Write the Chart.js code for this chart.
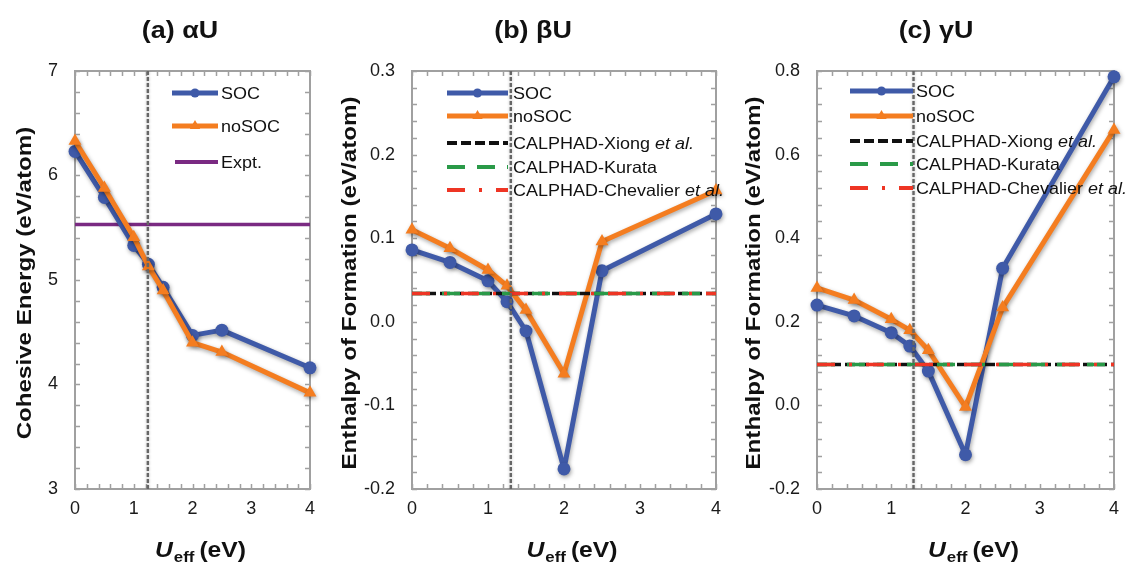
<!DOCTYPE html>
<html><head><meta charset="utf-8">
<script src="https://cdn.jsdelivr.net/npm/chart.js@4.4.1/dist/chart.umd.min.js"></script>
<style>
html,body{margin:0;padding:0;background:#fff;}
body{width:1128px;height:564px;overflow:hidden;position:relative;}
canvas{position:absolute;top:0;}
</style>
</head><body>
<canvas id="ca"></canvas>
<canvas id="cb"></canvas>
<canvas id="cc"></canvas>
<script>
const FONT = '"Liberation Sans", Arial, Helvetica, sans-serif';

// ---------- data ----------
const uEff = [0, 0.5, 1, 1.25, 1.5, 2, 2.5, 4];
const xTickValues = [0, 1, 2, 3, 4];

// (a) alpha-U cohesive energy (eV/atom)
const alphaSOC   = [6.23, 5.79, 5.33, 5.15, 4.93, 4.47, 4.52, 4.16];
const alphaNoSOC = [6.33, 5.88, 5.41, 5.13, 4.90, 4.40, 4.31, 3.92];
const alphaExpt  = 5.53;
const alphaYTicks = [3, 4, 5, 6, 7];

// (b) beta-U enthalpy of formation (eV/atom)
const betaSOC   = [0.086, 0.071, 0.049, 0.024, -0.011, -0.176, 0.061, 0.129];
const betaNoSOC = [0.110, 0.088, 0.062, 0.043, 0.014, -0.062, 0.096, 0.157];
const betaCalphadXiong = 0.034;
const betaCalphadKurata = 0.034;
const betaCalphadChevalier = 0.034;
const betaYTicks = [-0.2, -0.1, 0, 0.1, 0.2, 0.3];

// (c) gamma-U enthalpy of formation (eV/atom)
const gammaSOC   = [0.240, 0.214, 0.174, 0.142, 0.082, -0.118, 0.328, 0.786];
const gammaNoSOC = [0.281, 0.252, 0.206, 0.180, 0.132, -0.004, 0.234, 0.659];
const gammaCalphadXiong = 0.098;
const gammaCalphadKurata = 0.098;
const gammaCalphadChevalier = 0.098;
const gammaYTicks = [-0.2, 0, 0.2, 0.4, 0.6, 0.8];

// reference U_eff (vertical dashed line) per panel
const uRefLine = [1.24, 1.30, 1.30];

const panelTitles = ['(a) αU', '(b) βU', '(c) γU'];
const yTitles = ['Cohesive Energy (eV/atom)', 'Enthalpy of Formation (eV/atom)', 'Enthalpy of Formation (eV/atom)'];

// ---------- styles ----------
const BLUE = '#3F5AA8', ORANGE = '#F47D20', PURPLE = '#7A2A82';
const BLACK = '#111111', GREEN = '#2A9A48', RED = '#EE3524';
const AXIS = '#A0A0A0', VGRAY = '#666666';
const DASH_X = [10, 4], DASH_K = [18, 12], DASH_C = [18, 14, 3, 14];
const STRETCH = 1.12, LEG_STRETCH = 1.09;

function pts(xs, ys) { return xs.map((x, i) => ({x: x, y: ys[i]})); }
function hline(v) { return [{x: xTickValues[0], y: v}, {x: xTickValues[xTickValues.length - 1], y: v}]; }
function vline(u, yt) { return [{x: u, y: yt[0]}, {x: u, y: yt[yt.length - 1]}]; }

function socDs(d) {
  return {label: 'SOC', data: pts(uEff, d), borderColor: BLUE, backgroundColor: BLUE, borderWidth: 5,
    pointStyle: 'circle', pointRadius: 6.5, pointBorderWidth: 0, pointBackgroundColor: BLUE,
    borderJoinStyle: 'round', shadow: true, clip: false, order: 6};
}
function noSocDs(d) {
  return {label: 'noSOC', data: pts(uEff, d), borderColor: ORANGE, backgroundColor: ORANGE, borderWidth: 5,
    pointStyle: 'triangle', pointRadius: 7.5, pointBorderWidth: 0, pointBackgroundColor: ORANGE,
    borderJoinStyle: 'round', shadow: true, clip: false, order: 5};
}
function flatDs(label, v, color, dash, order) {
  return {label: label, data: hline(v), borderColor: color, borderWidth: 3.5, borderDash: dash,
    pointRadius: 0, order: order};
}
function refDs(u, yt) {
  return {label: 'ref', data: vline(u, yt), borderColor: VGRAY, borderWidth: 2.4, borderDash: [4, 2],
    pointRadius: 0, glow: true, order: 0};
}

function fmt1(v) { return Math.abs(v) < 1e-9 ? '0.0' : v.toFixed(1); }
function fmt0(v) { return String(Math.round(v)); }

// draw text stretched horizontally (reference fonts are wider than Arial)
function sText(ctx, t, x, y, sx) {
  ctx.save(); ctx.translate(x, y); ctx.scale(sx, 1); ctx.fillText(t, 0, 0); ctx.restore();
  return ctx.measureText(t).width * sx;
}

function drawLegend(ctx, items, sx0, sx1, tx) {
  items.forEach(it => {
    ctx.save();
    ctx.strokeStyle = it.color; ctx.lineWidth = it.width;
    ctx.setLineDash(it.dash || []);
    ctx.beginPath(); ctx.moveTo(it.x0 !== undefined ? it.x0 : sx0, it.y); ctx.lineTo(sx1, it.y); ctx.stroke();
    ctx.setLineDash([]);
    const mx = (sx0 + sx1) / 2;
    ctx.fillStyle = it.color;
    if (it.marker === 'circle') {
      ctx.beginPath(); ctx.arc(mx, it.y, 4.5, 0, Math.PI * 2); ctx.fill();
    } else if (it.marker === 'triangle') {
      const r = 6;
      ctx.beginPath();
      ctx.moveTo(mx, it.y - r);
      ctx.lineTo(mx + r * 0.866, it.y + r * 0.5);
      ctx.lineTo(mx - r * 0.866, it.y + r * 0.5);
      ctx.closePath(); ctx.fill();
    }
    ctx.fillStyle = '#111';
    ctx.textBaseline = 'middle'; ctx.textAlign = 'left';
    let x = tx;
    it.parts.forEach(p => {
      ctx.font = (p.i ? 'italic ' : '') + '16.5px ' + FONT;
      x += sText(ctx, p.t, x, it.y + 1, LEG_STRETCH);
    });
    ctx.restore();
  });
}

function panel(o) {
  const canvas = document.getElementById(o.id);
  canvas.width = o.width; canvas.height = 564;
  canvas.style.left = o.left + 'px';
  canvas.style.width = o.width + 'px'; canvas.style.height = '564px';
  const pl = o.plot.l - o.left, pr = o.plot.r - o.left;
  const yt = o.yTicks;

  const decor = {
    id: 'decor_' + o.id,
    beforeDatasetsDraw(chart) {
      const ctx = chart.ctx, a = chart.chartArea, sx = chart.scales.x, sy = chart.scales.y;
      ctx.save();
      ctx.strokeStyle = AXIS; ctx.lineWidth = 1.5;
      ctx.beginPath();
      const L = 5;
      for (let v = sx.min; v <= sx.max + 1e-9; v += o.xMinor) {
        const px = Math.round(sx.getPixelForValue(v)) + 0.5;
        ctx.moveTo(px, a.bottom); ctx.lineTo(px, a.bottom - L);
        ctx.moveTo(px, a.top); ctx.lineTo(px, a.top + L);
      }
      for (let v = sy.min; v <= sy.max + 1e-9; v += o.yMinor) {
        const py = Math.round(sy.getPixelForValue(v)) + 0.5;
        ctx.moveTo(a.left, py); ctx.lineTo(a.left + L, py);
        ctx.moveTo(a.right, py); ctx.lineTo(a.right - L, py);
      }
      ctx.stroke();
      ctx.lineWidth = 2;
      ctx.strokeRect(a.left, a.top, a.right - a.left, a.bottom - a.top);
      ctx.restore();
    },
    beforeDatasetDraw(chart, args) {
      const ds = chart.data.datasets[args.index];
      chart.ctx.save();
      if (ds.shadow) {
        chart.ctx.shadowColor = 'rgba(0,0,0,0.35)';
        chart.ctx.shadowBlur = 4; chart.ctx.shadowOffsetX = 1; chart.ctx.shadowOffsetY = 2;
      } else if (ds.glow) {
        chart.ctx.shadowColor = 'rgba(0,0,0,0.3)';
        chart.ctx.shadowBlur = 3; chart.ctx.shadowOffsetX = 0; chart.ctx.shadowOffsetY = 0;
      }
    },
    afterDatasetDraw(chart) { chart.ctx.restore(); },
    afterDraw(chart) {
      const ctx = chart.ctx, a = chart.chartArea;
      ctx.save();
      ctx.fillStyle = '#111';
      // panel title
      ctx.font = 'bold 24px ' + FONT; ctx.textAlign = 'left'; ctx.textBaseline = 'alphabetic';
      const wt = ctx.measureText(o.title).width * STRETCH;
      sText(ctx, o.title, o.titleX - o.left - wt / 2, 38, STRETCH);
      // y title
      ctx.save();
      ctx.translate(o.yTitleX - o.left, (a.top + a.bottom) / 2 + 3);
      ctx.rotate(-Math.PI / 2);
      ctx.font = 'bold 21px ' + FONT; ctx.textAlign = 'left';
      const wy = ctx.measureText(o.yTitle).width * 1.15;
      sText(ctx, o.yTitle, -wy / 2, 0, 1.15);
      ctx.restore();
      // x title: U_eff (eV)
      const fU = 'italic bold 22px ' + FONT, fS = 'bold 15px ' + FONT, fR = 'bold 22px ' + FONT;
      ctx.textAlign = 'left';
      ctx.font = fU; const wU = ctx.measureText('U').width * STRETCH;
      ctx.font = fS; const wS = ctx.measureText('eff').width * STRETCH;
      ctx.font = fR; const wR = ctx.measureText('(eV)').width * STRETCH;
      const total = wU + 1 + wS + 5 + wR;
      let x = (a.left + a.right) / 2 + 8 - total / 2;
      const yb = 557;
      ctx.font = fU; sText(ctx, 'U', x, yb, STRETCH); x += wU + 1;
      ctx.font = fS; sText(ctx, 'eff', x, yb + 5, STRETCH); x += wS + 5;
      ctx.font = fR; sText(ctx, '(eV)', x, yb, STRETCH);
      ctx.restore();
      drawLegend(ctx, o.legend, o.leg[0] - o.left, o.leg[1] - o.left, o.leg[2] - o.left);
    }
  };

  new Chart(canvas, {
    type: 'line',
    data: {datasets: o.datasets},
    options: {
      responsive: false, animation: false, devicePixelRatio: 1,
      layout: {padding: {left: 0, right: o.width - pr, top: o.plot.t, bottom: 0}},
      plugins: {legend: {display: false}, tooltip: {enabled: false}, title: {display: false}},
      elements: {line: {tension: 0}},
      scales: {
        x: {type: 'linear', min: xTickValues[0], max: xTickValues[xTickValues.length - 1],
          grid: {display: false, drawTicks: false}, border: {display: false},
          afterBuildTicks: s => { s.ticks = xTickValues.map(v => ({value: v})); },
          afterFit: s => { s.height = 564 - o.plot.b; },
          ticks: {padding: 9, color: '#1a1a1a', font: {family: FONT, size: 18}, maxRotation: 0, autoSkip: false,
            callback: v => fmt0(v)}},
        y: {type: 'linear', min: yt[0], max: yt[yt.length - 1],
          grid: {display: false, drawTicks: false}, border: {display: false},
          afterBuildTicks: s => { s.ticks = yt.map(v => ({value: v})); },
          afterFit: s => { s.width = pl; },
          ticks: {padding: 17, color: '#1a1a1a', font: {family: FONT, size: 18}, autoSkip: false,
            callback: o.yFmt}}
      }
    },
    plugins: [decor]
  });
}

const calLegend = (y0) => [
  {y: y0[0], color: BLUE, width: 5, marker: 'circle', parts: [{t: 'SOC'}]},
  {y: y0[1], color: ORANGE, width: 5, marker: 'triangle', parts: [{t: 'noSOC'}]},
  {y: y0[2], color: BLACK, width: 4, dash: DASH_X, parts: [{t: 'CALPHAD-Xiong '}, {t: 'et al.', i: true}]},
  {y: y0[3], color: GREEN, width: 4, dash: DASH_K, parts: [{t: 'CALPHAD-Kurata'}]},
  {y: y0[4], color: RED, width: 4, dash: DASH_C, parts: [{t: 'CALPHAD-Chevalier '}, {t: 'et al.', i: true}]}
];

panel({
  id: 'ca', left: 0, width: 340, plot: {l: 75, r: 310, t: 71, b: 489},
  yTicks: alphaYTicks, xMinor: 0.2, yMinor: 0.2, yFmt: fmt0,
  title: panelTitles[0], titleX: 180, yTitle: yTitles[0], yTitleX: 31,
  datasets: [
    refDs(uRefLine[0], alphaYTicks),
    noSocDs(alphaNoSOC),
    socDs(alphaSOC),
    {label: 'Expt.', data: hline(alphaExpt), borderColor: PURPLE, borderWidth: 3.5, pointRadius: 0, order: 7}
  ],
  leg: [172, 218, 221],
  legend: [
    {y: 93, color: BLUE, width: 5, marker: 'circle', parts: [{t: 'SOC'}]},
    {y: 126, color: ORANGE, width: 5, marker: 'triangle', parts: [{t: 'noSOC'}]},
    {y: 162, color: PURPLE, width: 4, x0: 175, parts: [{t: 'Expt.'}]}
  ]
});

panel({
  id: 'cb', left: 340, width: 390, plot: {l: 412, r: 718, t: 71, b: 489},
  yTicks: betaYTicks, xMinor: 0.2, yMinor: 0.02, yFmt: fmt1,
  title: panelTitles[1], titleX: 533, yTitle: yTitles[1], yTitleX: 356,
  datasets: [
    refDs(uRefLine[1], betaYTicks),
    flatDs('CALPHAD-Chevalier et al.', betaCalphadChevalier, RED, DASH_C, 1),
    flatDs('CALPHAD-Kurata', betaCalphadKurata, GREEN, DASH_K, 2),
    flatDs('CALPHAD-Xiong et al.', betaCalphadXiong, BLACK, DASH_X, 3),
    noSocDs(betaNoSOC),
    socDs(betaSOC)
  ],
  leg: [447, 508, 513],
  legend: calLegend([93, 116, 143, 167, 190])
});

panel({
  id: 'cc', left: 730, width: 398, plot: {l: 817, r: 1121, t: 71, b: 489},
  yTicks: gammaYTicks, xMinor: 0.2, yMinor: 0.04, yFmt: fmt1,
  title: panelTitles[2], titleX: 936, yTitle: yTitles[2], yTitleX: 760,
  datasets: [
    refDs(uRefLine[2], gammaYTicks),
    flatDs('CALPHAD-Chevalier et al.', gammaCalphadChevalier, RED, DASH_C, 1),
    flatDs('CALPHAD-Kurata', gammaCalphadKurata, GREEN, DASH_K, 2),
    flatDs('CALPHAD-Xiong et al.', gammaCalphadXiong, BLACK, DASH_X, 3),
    noSocDs(gammaNoSOC),
    socDs(gammaSOC)
  ],
  leg: [850, 913, 916],
  legend: calLegend([91, 116, 141, 164, 188])
});
</script>
</body></html>
